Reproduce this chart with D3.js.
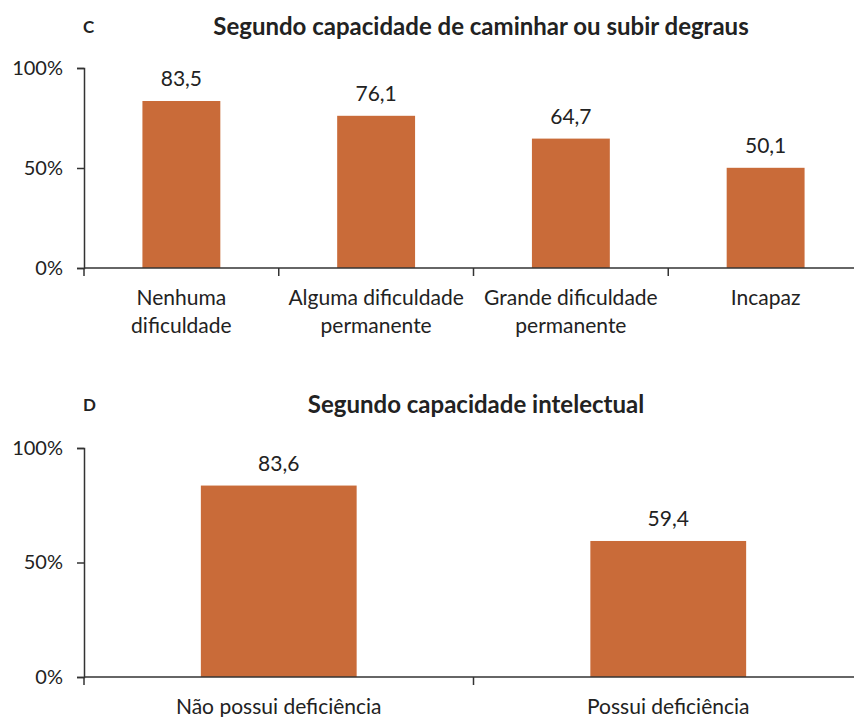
<!DOCTYPE html>
<html>
<head>
<meta charset="utf-8">
<script src="https://cdn.jsdelivr.net/npm/d3@7"></script>
<style>
  body { margin: 0; background: #fff; }
  svg { display: block; font-family: Lato, "Open Sans", sans-serif; }
</style>
</head>
<body>
<div id="container"></div>
<script>
// panel C
const catsC = ["Nenhuma\ndificuldade", "Alguma dificuldade\npermanente", "Grande dificuldade\npermanente", "Incapaz"];
const valsC = [83.5, 76.1, 64.7, 50.1];
// panel D
const catsD = ["Não possui deficiência", "Possui deficiência"];
const valsD = [83.6, 59.4];
const yTicks = [0, 50, 100];

const width = 854;
const height = 717;
const barColor = "#c96b39";
const textColor = "#222";

const svg = d3.create("svg")
  .attr("width", width)
  .attr("height", height);

function panel(letter, title, cats, vals, top, bottom, titleY, titleX) {
  const x = d3.scaleBand(cats, [84, 863]).paddingInner(0.6).paddingOuter(0.3);
  const y = d3.scaleLinear([0, 100], [bottom, top]);
  const g = svg.append("g");

  g.append("text")
    .attr("x", 83).attr("y", titleY)
    .attr("dy", "0.35em")
    .attr("font-size", 17).attr("font-weight", "bold")
    .attr("fill", textColor)
    .text(letter);

  g.append("text")
    .attr("x", titleX).attr("y", titleY)
    .attr("dy", "0.35em")
    .attr("text-anchor", "middle")
    .attr("font-size", 24).attr("font-weight", "bold")
    .attr("fill", textColor)
    .text(title);

  g.selectAll("rect.bar")
    .data(vals)
    .join("rect")
    .attr("class", "bar")
    .attr("x", (d, i) => x(cats[i]))
    .attr("width", x.bandwidth())
    .attr("y", d => y(d))
    .attr("height", d => y(0) - y(d))
    .attr("fill", barColor);

  g.selectAll("text.val")
    .data(vals)
    .join("text")
    .attr("class", "val")
    .attr("x", (d, i) => x(cats[i]) + x.bandwidth() / 2)
    .attr("y", d => y(d) - 22)
    .attr("dy", "0.35em")
    .attr("text-anchor", "middle")
    .attr("font-size", 21)
    .attr("fill", textColor)
    .text(d => d3.format(".1f")(d).replace(".", ","));

  // y axis
  const ya = g.append("g")
    .attr("transform", "translate(84,0)")
    .call(d3.axisLeft(y).tickValues(yTicks).tickFormat(d => d + "%").tickSize(7).tickPadding(14));
  ya.select(".domain").attr("stroke", "#333").attr("stroke-width", 1.5);
  ya.selectAll(".tick line").attr("stroke", "#333").attr("stroke-width", 1.5);
  ya.selectAll(".tick text").attr("font-size", 20).attr("font-family", "Lato, sans-serif").attr("fill", textColor);

  // x axis: ticks between categories
  const step = x.step();
  const bounds = d3.range(cats.length + 1).map(i => 84 + i * step);
  g.append("line")
    .attr("x1", 84).attr("x2", 863)
    .attr("y1", y(0)).attr("y2", y(0))
    .attr("stroke", "#333").attr("stroke-width", 1.5);
  g.selectAll("line.xt")
    .data(bounds)
    .join("line")
    .attr("class", "xt")
    .attr("x1", d => d).attr("x2", d => d)
    .attr("y1", y(0)).attr("y2", y(0) + 8)
    .attr("stroke", "#333").attr("stroke-width", 1.5);

  const labels = g.selectAll("text.cat")
    .data(cats)
    .join("text")
    .attr("class", "cat")
    .attr("x", d => x(d) + x.bandwidth() / 2)
    .attr("y", y(0) + 30)
    .attr("text-anchor", "middle")
    .attr("font-size", 21)
    .attr("fill", textColor);
  labels.selectAll("tspan")
    .data(d => d.split("\n"))
    .join("tspan")
    .attr("x", function () { return this.parentNode.getAttribute("x"); })
    .attr("dy", (d, i) => i === 0 ? "0.35em" : 28)
    .text(d => d);
}

panel("C", "Segundo capacidade de caminhar ou subir degraus", catsC, valsC, 68, 268, 27, 481);
panel("D", "Segundo capacidade intelectual", catsD, valsD, 448, 677, 405, 476);

document.getElementById("container").append(svg.node());
</script>
</body>
</html>
